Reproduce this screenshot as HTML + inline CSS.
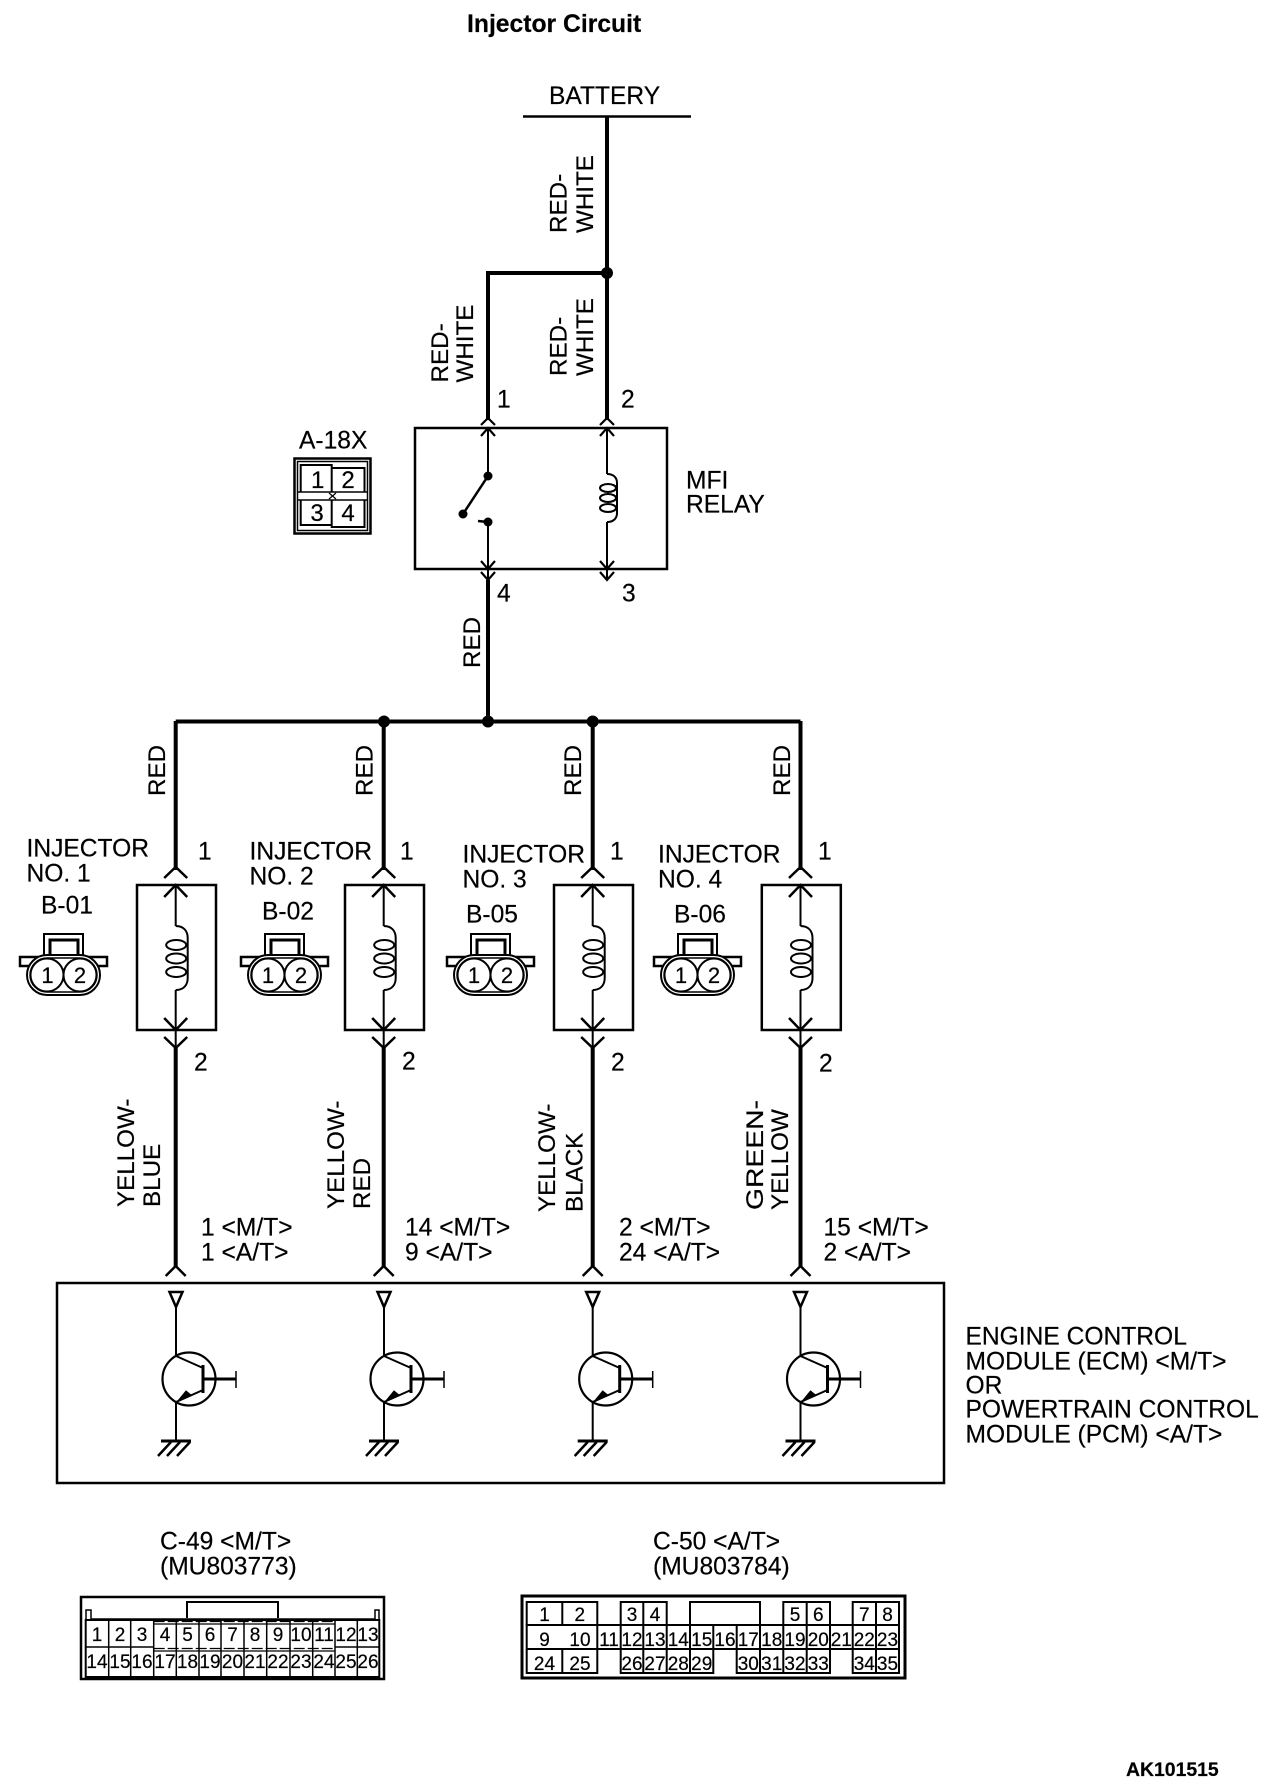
<!DOCTYPE html>
<html><head><meta charset="utf-8"><style>
html,body{margin:0;padding:0;background:#fff}
svg{display:block}
text{font-family:"Liberation Sans",sans-serif;font-size:24.6px;fill:#000;stroke:#000;stroke-width:.2px}
.r text{font-size:24.2px}
.d{font-size:19px;text-anchor:middle}
.p{font-size:22px;text-anchor:middle}
</style></head><body>
<svg xmlns="http://www.w3.org/2000/svg" width="1280" height="1790" viewBox="0 0 1280 1790">
<defs>
<g id="tr" fill="none" stroke="#000" stroke-width="2">
<path d="M-6.5 1292H6.5L0 1307Z" stroke-width="2.5"/>
<path d="M0 1307V1356L27 1368M27 1390L0 1402V1441"/>
<circle cx="13" cy="1379" r="26.5" stroke-width="2.2"/>
<path d="M27 1365V1393" stroke-width="3"/>
<path d="M27 1379H60" stroke-width="3"/>
<path d="M60 1371V1388" stroke-width="1.5"/>
<path d="M-15 1441H15" stroke-width="3"/>
<path d="M-5 1442L-18 1456M4 1442L-9 1456M14 1442L1 1456" stroke-width="2.5"/>
<path d="M1 1402L15 1395L10 1391Z" fill="#000" stroke-width="1"/>
</g>
<g id="inj" fill="none" stroke="#000">
<path d="M0 721V870M0 1048V1267" stroke-width="4"/>
<path d="M0 885V926M0 990V1048" stroke-width="2"/>
<rect x="-38.7" y="885" width="79" height="145" stroke-width="2.5"/>
<path d="M-11.5 878L0 867L11.5 878M-11.5 897L0 885L11.5 897M-11.5 1018L0 1030L11.5 1018M-11.5 1037L0 1048L11.5 1037" stroke-width="2.5"/>
<path d="M-10 1276L0 1266L10 1276" stroke-width="2.5"/>
<path d="M0 926C8 926 12 931 12 938V978C12 985 8 990 0 990" stroke-width="2"/>
<ellipse cx="0.5" cy="945" rx="10" ry="5" stroke-width="2"/>
<ellipse cx="0.5" cy="958.5" rx="10" ry="5" stroke-width="2"/>
<ellipse cx="0.5" cy="972" rx="10" ry="5" stroke-width="2"/>
</g>
<g id="con" fill="none" stroke="#000" stroke-width="2">
<path d="M-21 956V934H18V956" stroke-width="2"/>
<path d="M-15 956V940H13V956" stroke-width="3"/>
<rect x="-45" y="957" width="87" height="9" fill="#fff" stroke-width="2.5"/>
<rect x="-38" y="955" width="73" height="40" rx="20" fill="#fff" stroke-width="2"/>
<rect x="-35" y="958" width="67" height="34" rx="17" fill="#fff" stroke-width="1.5"/>
<circle cx="-18" cy="975" r="16.5" fill="#fff" stroke-width="2"/>
<circle cx="15" cy="975" r="16.5" fill="#fff" stroke-width="2"/>
</g>
</defs>

<text x="467" y="32" style="font-weight:bold;font-size:24.7px">Injector Circuit</text>
<text x="549" y="104" style="font-size:24.6px">BATTERY</text>
<path d="M523 116.5H691" stroke="#000" stroke-width="2.5"/>

<g fill="none" stroke="#000">
<path d="M607 116V420M488 420V273H607" stroke-width="4"/>
<path d="M488 580V721" stroke-width="4"/>
<path d="M175.7 721.5H800.5" stroke-width="4"/>
<rect x="415" y="428" width="252" height="141" stroke-width="2.5"/>
<path d="M488 428V476M488 522V580M607 428V474M607 522V578" stroke-width="2"/>
<path d="M481 425L488 418L495 425M481 436L488 428L495 436M600 425L607 418L614 425M600 436L607 428L614 436M481 561L488 569L495 561M481 572L488 580L495 572M600 561L607 569L614 561M600 572L607 580L614 572" stroke-width="2.2"/>
<path d="M488 476L463 514" stroke-width="2.5"/>
<path d="M478 521L488 522" stroke-width="2.5"/>
<path d="M607 474C614 474 617 478 617 483V513C617 518 614 522 607 522" stroke-width="2"/>
<ellipse cx="608" cy="488" rx="8" ry="4" stroke-width="2"/>
<ellipse cx="608" cy="498" rx="8" ry="4" stroke-width="2"/>
<ellipse cx="608" cy="508" rx="8" ry="4" stroke-width="2"/>
<rect x="57" y="1283" width="887" height="200" stroke-width="2.5"/>
</g>
<g fill="#000">
<circle cx="607" cy="273" r="6"/>
<circle cx="384" cy="721.5" r="6"/>
<circle cx="488" cy="721.5" r="6"/>
<circle cx="592.7" cy="721.5" r="6"/>
<circle cx="488" cy="476" r="4.5"/>
<circle cx="463" cy="514" r="4.5"/>
<circle cx="488" cy="522" r="4.5"/>
</g>

<use href="#inj" transform="translate(175.7 0)"/>
<use href="#inj" transform="translate(383.7 0)"/>
<use href="#inj" transform="translate(592.7 0)"/>
<use href="#inj" transform="translate(800.5 0)"/>
<use href="#tr" transform="translate(176 0)"/>
<use href="#tr" transform="translate(384 0)"/>
<use href="#tr" transform="translate(592.7 0)"/>
<use href="#tr" transform="translate(800.5 0)"/>
<use href="#con" transform="translate(65 0)"/>
<use href="#con" transform="translate(286 0)"/>
<use href="#con" transform="translate(492 0)"/>
<use href="#con" transform="translate(699 0)"/>
<text class="p" x="47.5" y="983">1</text><text class="p" x="80" y="983">2</text>
<text class="p" x="268" y="983">1</text><text class="p" x="301" y="983">2</text>
<text class="p" x="474" y="983">1</text><text class="p" x="507" y="983">2</text>
<text class="p" x="681" y="983">1</text><text class="p" x="714" y="983">2</text>

<!-- rotated labels -->
<g class="r" transform="translate(-1 0)">
<text transform="translate(567.5 233) rotate(-90)">RED-</text>
<text transform="translate(594 233) rotate(-90)">WHITE</text>
<text transform="translate(449 382.5) rotate(-90)">RED-</text>
<text transform="translate(474 382.5) rotate(-90)">WHITE</text>
<text transform="translate(567.5 376) rotate(-90)">RED-</text>
<text transform="translate(594 376) rotate(-90)">WHITE</text>
<text transform="translate(481 668) rotate(-90)">RED</text>
<text transform="translate(166 796) rotate(-90)">RED</text>
<text transform="translate(373.5 796) rotate(-90)">RED</text>
<text transform="translate(582 796) rotate(-90)">RED</text>
<text transform="translate(791 796) rotate(-90)">RED</text>
<text transform="translate(135 1207) rotate(-90)">YELLOW-</text>
<text transform="translate(161 1207) rotate(-90)">BLUE</text>
<text transform="translate(345 1209) rotate(-90)">YELLOW-</text>
<text transform="translate(371 1209) rotate(-90)">RED</text>
<text transform="translate(556 1212) rotate(-90)">YELLOW-</text>
<text transform="translate(583.5 1212) rotate(-90)">BLACK</text>
<text transform="translate(764 1210) rotate(-90)" textLength="110" lengthAdjust="spacingAndGlyphs">GREEN-</text>
<text transform="translate(789 1210) rotate(-90)">YELLOW</text>
</g>

<g transform="translate(0 -0.5)">
<text x="497" y="408">1</text><text x="621" y="408">2</text>
<text x="497" y="602">4</text><text x="622" y="602">3</text>
<text x="686" y="489">MFI</text><text x="686" y="513">RELAY</text>
<text x="299" y="449">A-18X</text>

<text x="26.5" y="857">INJECTOR</text><text x="26.5" y="882">NO. 1</text><text x="41" y="914">B-01</text>
<text x="249.5" y="860">INJECTOR</text><text x="249.5" y="885">NO. 2</text><text x="262" y="920">B-02</text>
<text x="462.5" y="863">INJECTOR</text><text x="462.5" y="888">NO. 3</text><text x="466" y="923">B-05</text>
<text x="658" y="863">INJECTOR</text><text x="658" y="888">NO. 4</text><text x="674" y="923">B-06</text>

<text x="198" y="860">1</text><text x="400" y="860">1</text><text x="610" y="860">1</text><text x="818" y="860">1</text>
<text x="194" y="1071">2</text><text x="402" y="1070">2</text><text x="611" y="1071">2</text><text x="819" y="1072">2</text>

<text x="201" y="1236">1 &lt;M/T&gt;</text><text x="201" y="1261">1 &lt;A/T&gt;</text>
<text x="405" y="1236">14 &lt;M/T&gt;</text><text x="405" y="1261">9 &lt;A/T&gt;</text>
<text x="619" y="1236">2 &lt;M/T&gt;</text><text x="619" y="1261">24 &lt;A/T&gt;</text>
<text x="823.5" y="1236">15 &lt;M/T&gt;</text><text x="823.5" y="1261">2 &lt;A/T&gt;</text>

<text x="965.5" y="1345">ENGINE CONTROL</text>
<text x="965.5" y="1370">MODULE (ECM) &lt;M/T&gt;</text>
<text x="965.5" y="1394">OR</text>
<text x="965.5" y="1418">POWERTRAIN CONTROL</text>
<text x="965.5" y="1443">MODULE (PCM) &lt;A/T&gt;</text>

<text x="160" y="1550">C-49 &lt;M/T&gt;</text><text x="160" y="1575">(MU803773)</text>
<text x="653" y="1550">C-50 &lt;A/T&gt;</text><text x="653" y="1575">(MU803784)</text>
</g>
<text x="1126" y="1776" style="font-weight:bold;font-size:19.4px">AK101515</text>

<!-- A-18X connector -->
<g fill="none" stroke="#000">
<rect x="294.5" y="458.5" width="76" height="75" stroke-width="2.5"/>
<rect x="297.5" y="461.5" width="70" height="69" stroke-width="1.5"/>
<path d="M300.7 492V465H331.7V492M331.7 468H364.5V492" stroke-width="2"/>
<path d="M298 492H367M298 500H367" stroke-width="1.5"/>
<path d="M300.7 500V525H331.7M331.7 500V527H364.5V500" stroke-width="2"/>
<path d="M329 493L336 499M336 493L329 499" stroke-width="1.2"/>
</g>
<text x="317.7" y="488" style="font-size:24px;text-anchor:middle">1</text>
<text x="348" y="488" style="font-size:24px;text-anchor:middle">2</text>
<text x="317" y="521" style="font-size:24px;text-anchor:middle">3</text>
<text x="348" y="521" style="font-size:24px;text-anchor:middle">4</text>

<!-- C-49 -->
<g fill="none" stroke="#000">
<rect x="81" y="1597" width="303" height="82" stroke-width="2.5"/>
<path d="M187 1618V1602H278V1618" stroke-width="2"/>
<path d="M86 1619V1610H91V1619H375V1610H379V1619" stroke-width="1.5"/>
<path d="M85.7 1620V1677H379.3V1620Z" stroke-width="2"/>
<path d="M85.7 1647H153.7M335 1647H379.3" stroke-width="1.5"/>
<path d="M108.7 1620V1677M130.7 1620V1677M153.7 1620V1677M176.3 1620V1677M199 1620V1677M221 1620V1677M244 1620V1677M266.7 1620V1677M290 1620V1677M312.7 1620V1677M335 1620V1677M357.3 1620V1677" stroke-width="1.5"/>
<path d="M153.7 1621.5H335M153.7 1648.5H335" stroke-width="1.3" stroke-dasharray="11 3"/>
<path d="M153.7 1624H335M153.7 1651H335" stroke-width="1.2"/>
</g>
<g>
<text class="d" x="97" y="1641">1</text><text class="d" x="120" y="1641">2</text><text class="d" x="142" y="1641">3</text><text class="d" x="165" y="1641">4</text><text class="d" x="187.5" y="1641">5</text><text class="d" x="210" y="1641">6</text><text class="d" x="232.5" y="1641">7</text><text class="d" x="255" y="1641">8</text><text class="d" x="278" y="1641">9</text><text class="d" x="301" y="1641">10</text><text class="d" x="324" y="1641">11</text><text class="d" x="346" y="1641">12</text><text class="d" x="368" y="1641">13</text>
<text class="d" x="97" y="1668">14</text><text class="d" x="120" y="1668">15</text><text class="d" x="142" y="1668">16</text><text class="d" x="165" y="1668">17</text><text class="d" x="187.5" y="1668">18</text><text class="d" x="210" y="1668">19</text><text class="d" x="232.5" y="1668">20</text><text class="d" x="255" y="1668">21</text><text class="d" x="278" y="1668">22</text><text class="d" x="301" y="1668">23</text><text class="d" x="324" y="1668">24</text><text class="d" x="346" y="1668">25</text><text class="d" x="368" y="1668">26</text>
</g>

<!-- C-50 -->
<g fill="none" stroke="#000">
<rect x="522" y="1596" width="383" height="82" stroke-width="3"/>
<path d="M526.7 1625V1602H597.3V1625M562.3 1602V1625M620.7 1625V1602H666.7V1625M643.3 1602V1625M690 1625V1602H760V1625M783.3 1625V1602H830V1625M806.7 1602V1625M852.7 1625V1602H899V1625M876 1602V1625" stroke-width="2"/>
<path d="M526.7 1625H899V1649H526.7ZM597.3 1625V1649M620.7 1625V1649M643.3 1625V1649M666.7 1625V1649M690 1625V1649M713.3 1625V1649M736.7 1625V1649M760 1625V1649M783.3 1625V1649M806.7 1625V1649M830 1625V1649M852.7 1625V1649M876 1625V1649" stroke-width="2"/>
<path d="M526.7 1649V1673H597.3V1649M562.3 1649V1673M620.7 1649V1673H713.3V1649M643.3 1649V1673M666.7 1649V1673M690 1649V1673M736.7 1649V1673H830V1649M760 1649V1673M783.3 1649V1673M806.7 1649V1673M852.7 1649V1673H899V1649M876 1649V1673" stroke-width="2"/>
</g>
<g>
<text class="d" x="544.5" y="1621">1</text><text class="d" x="579.8" y="1621">2</text><text class="d" x="632" y="1621">3</text><text class="d" x="655" y="1621">4</text><text class="d" x="795" y="1621">5</text><text class="d" x="818.3" y="1621">6</text><text class="d" x="864.3" y="1621">7</text><text class="d" x="887.5" y="1621">8</text>
<text class="d" x="544.5" y="1646">9</text><text class="d" x="580" y="1646">10</text><text class="d" x="609" y="1646">11</text><text class="d" x="632" y="1646">12</text><text class="d" x="655" y="1646">13</text><text class="d" x="678.3" y="1646">14</text><text class="d" x="701.7" y="1646">15</text><text class="d" x="725" y="1646">16</text><text class="d" x="748.3" y="1646">17</text><text class="d" x="771.7" y="1646">18</text><text class="d" x="795" y="1646">19</text><text class="d" x="818.3" y="1646">20</text><text class="d" x="841.3" y="1646">21</text><text class="d" x="864.3" y="1646">22</text><text class="d" x="887.5" y="1646">23</text>
<text class="d" x="544.5" y="1670">24</text><text class="d" x="580" y="1670">25</text><text class="d" x="632" y="1670">26</text><text class="d" x="655" y="1670">27</text><text class="d" x="678.3" y="1670">28</text><text class="d" x="701.7" y="1670">29</text><text class="d" x="748.3" y="1670">30</text><text class="d" x="771.7" y="1670">31</text><text class="d" x="795" y="1670">32</text><text class="d" x="818.3" y="1670">33</text><text class="d" x="864.3" y="1670">34</text><text class="d" x="887.5" y="1670">35</text>
</g>
</svg>
</body></html>
